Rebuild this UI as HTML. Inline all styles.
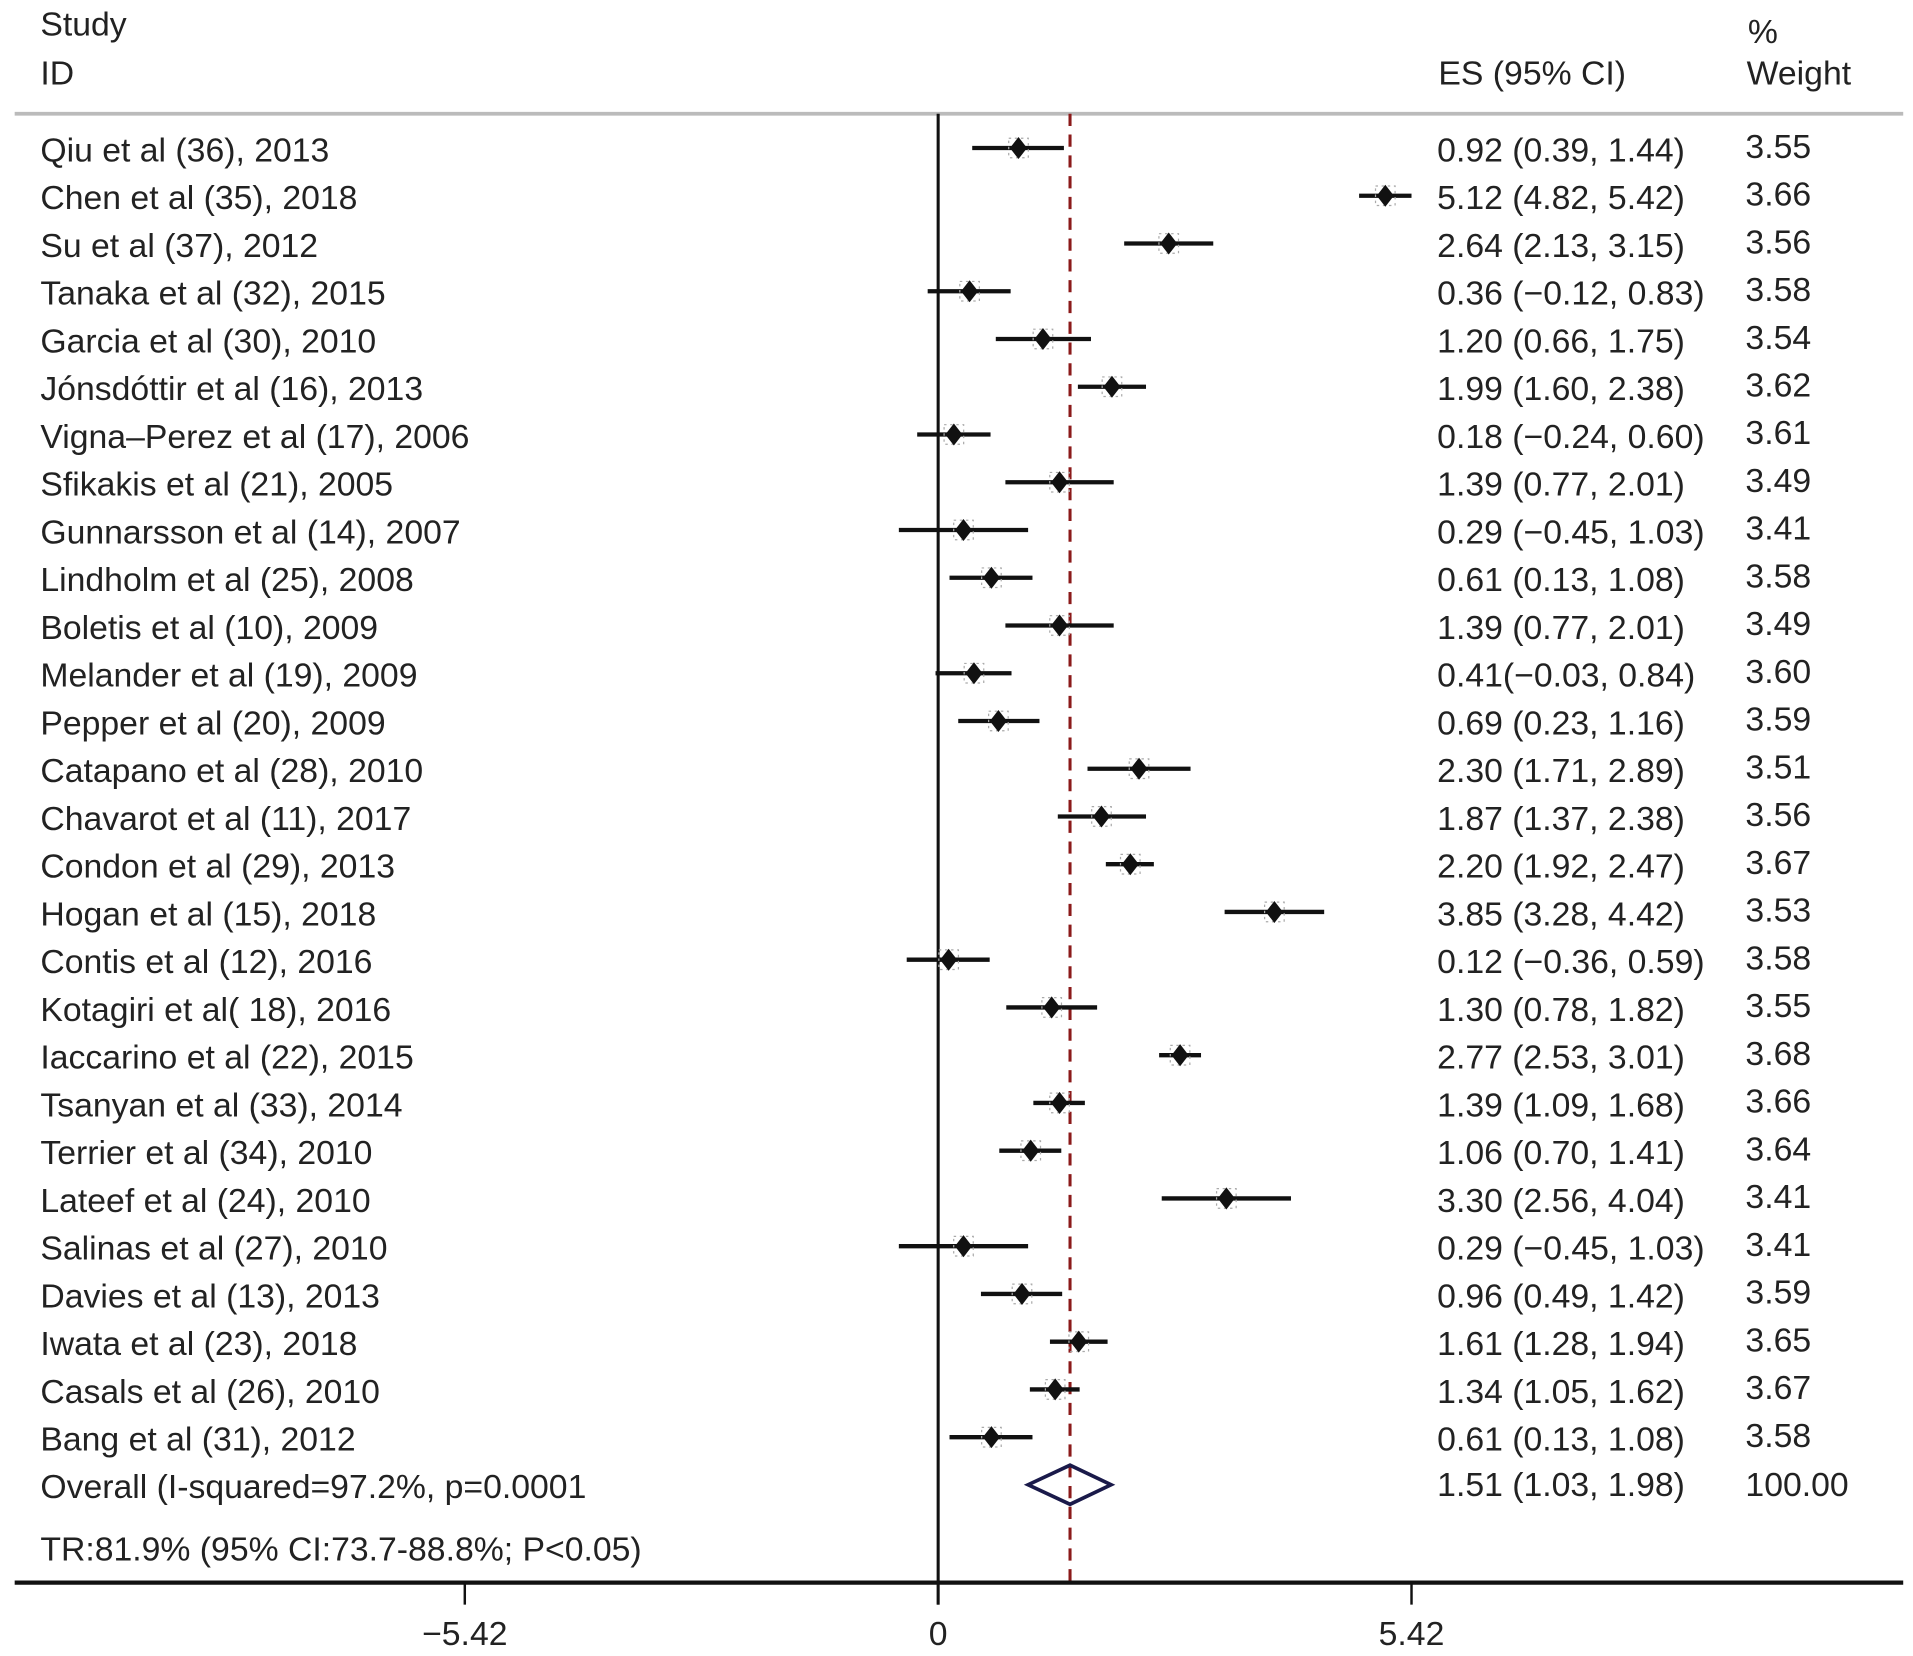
<!DOCTYPE html>
<html><head><meta charset="utf-8"><style>
html,body{margin:0;padding:0;background:#fff}
svg{display:block}
text{font-family:"Liberation Sans",sans-serif;font-size:27.6px;fill:#222}
</style></head><body>
<svg id="chart" width="1913" height="1656" viewBox="0 0 1564 1354" preserveAspectRatio="none" xmlns="http://www.w3.org/2000/svg">
<text x="33" y="29">Study</text>
<text x="33" y="69">ID</text>
<text x="1176" y="69">ES (95% CI)</text>
<text x="1429" y="35">%</text>
<text x="1428" y="69">Weight</text>
<line x1="12" y1="93" x2="1556" y2="93" stroke="#bbb" stroke-width="3"/>
<g id="plot"></g>
</svg>
<script>
const studies=["Qiu et al (36), 2013","Chen et al (35), 2018","Su et al (37), 2012","Tanaka et al (32), 2015","Garcia et al (30), 2010","Jónsdóttir et al (16), 2013","Vigna–Perez et al (17), 2006","Sfikakis et al (21), 2005","Gunnarsson et al (14), 2007","Lindholm et al (25), 2008","Boletis et al (10), 2009","Melander et al (19), 2009","Pepper et al (20), 2009","Catapano et al (28), 2010","Chavarot et al (11), 2017","Condon et al (29), 2013","Hogan et al (15), 2018","Contis et al (12), 2016","Kotagiri et al( 18), 2016","Iaccarino et al (22), 2015","Tsanyan et al (33), 2014","Terrier et al (34), 2010","Lateef et al (24), 2010","Salinas et al (27), 2010","Davies et al (13), 2013","Iwata et al (23), 2018","Casals et al (26), 2010","Bang et al (31), 2012"];
const es=[0.92,5.12,2.64,0.36,1.20,1.99,0.18,1.39,0.29,0.61,1.39,0.41,0.69,2.30,1.87,2.20,3.85,0.12,1.30,2.77,1.39,1.06,3.30,0.29,0.96,1.61,1.34,0.61];
const lo=[0.39,4.82,2.13,-0.12,0.66,1.60,-0.24,0.77,-0.45,0.13,0.77,-0.03,0.23,1.71,1.37,1.92,3.28,-0.36,0.78,2.53,1.09,0.70,2.56,-0.45,0.49,1.28,1.05,0.13];
const hi=[1.44,5.42,3.15,0.83,1.75,2.38,0.60,2.01,1.03,1.08,2.01,0.84,1.16,2.89,2.38,2.47,4.42,0.59,1.82,3.01,1.68,1.41,4.04,1.03,1.42,1.94,1.62,1.08];
const esLabels=["0.92 (0.39, 1.44)","5.12 (4.82, 5.42)","2.64 (2.13, 3.15)","0.36 (−0.12, 0.83)","1.20 (0.66, 1.75)","1.99 (1.60, 2.38)","0.18 (−0.24, 0.60)","1.39 (0.77, 2.01)","0.29 (−0.45, 1.03)","0.61 (0.13, 1.08)","1.39 (0.77, 2.01)","0.41(−0.03, 0.84)","0.69 (0.23, 1.16)","2.30 (1.71, 2.89)","1.87 (1.37, 2.38)","2.20 (1.92, 2.47)","3.85 (3.28, 4.42)","0.12 (−0.36, 0.59)","1.30 (0.78, 1.82)","2.77 (2.53, 3.01)","1.39 (1.09, 1.68)","1.06 (0.70, 1.41)","3.30 (2.56, 4.04)","0.29 (−0.45, 1.03)","0.96 (0.49, 1.42)","1.61 (1.28, 1.94)","1.34 (1.05, 1.62)","0.61 (0.13, 1.08)"];
const weights=["3.55","3.66","3.56","3.58","3.54","3.62","3.61","3.49","3.41","3.58","3.49","3.60","3.59","3.51","3.56","3.67","3.53","3.58","3.55","3.68","3.66","3.64","3.41","3.41","3.59","3.65","3.67","3.58"];
const overall=[1.51,1.03,1.98];
const ticks=[-5.42,0,5.42];
const tickLabels=["−5.42","0","5.42"];

const NS="http://www.w3.org/2000/svg";
const g=document.getElementById('plot');
const X=v=>767+v*(387/5.42);
const Y=i=>123+i*39.04;
function mk(tag,attrs,txt){const e=document.createElementNS(NS,tag);for(const k in attrs)e.setAttribute(k,attrs[k]);if(txt!==undefined)e.textContent=txt;g.appendChild(e);return e;}
let e;
e=mk('line',{x1:X(0),y1:93,x2:X(0),y2:1312,stroke:'#111','stroke-width':2.5});


e=mk('line',{x1:X(overall[0]),y1:93,x2:X(overall[0]),y2:1294,stroke:'#8b1a1a','stroke-width':2.5,'stroke-dasharray':'10 7'});


studies.forEach((s,i)=>{
  const y=Y(i);
  e=mk('text',{x:33,y:y+9},s);
  
  
  e=mk('line',{x1:X(lo[i]),y1:y-2,x2:X(hi[i]),y2:y-2,stroke:'#111','stroke-width':3.5});
  
  
  const cx=X(es[i]),cy=y-2;
  e=mk('rect',{x:cx-8,y:cy-8,width:16,height:16,fill:'none',stroke:'#aaa','stroke-width':1,'stroke-dasharray':'2 3'});
  
  
  e=mk('polygon',{points:`${cx},${cy-9} ${cx+7},${cy} ${cx},${cy+9} ${cx-7},${cy}`,fill:'#111'});
  
  
  e=mk('text',{x:1175,y:y+9},esLabels[i]);
  
  
  e=mk('text',{x:1427,y:y+6},weights[i]);
  
  
});
const oy=1216;
e=mk('text',{x:33,y:oy+9},'Overall (I-squared=97.2%, p=0.0001');


e=mk('polygon',{points:`${X(overall[1])},${oy-2} ${X(overall[0])},${oy-18} ${X(overall[2])},${oy-2} ${X(overall[0])},${oy+14}`,fill:'none',stroke:'#1a1a4a','stroke-width':3});


e=mk('text',{x:1175,y:oy+7},'1.51 (1.03, 1.98)');


e=mk('text',{x:1427,y:oy+7},'100.00');


e=mk('text',{x:33,y:1276},'TR:81.9% (95% CI:73.7-88.8%; P<0.05)');


e=mk('line',{x1:12,y1:1294,x2:1556,y2:1294,stroke:'#111','stroke-width':3.5});


ticks.forEach((t,i)=>{
  e=mk('line',{x1:X(t),y1:1294,x2:X(t),y2:1312,stroke:'#111','stroke-width':2});
  
  
  e=mk('text',{x:X(t),y:1345,'text-anchor':'middle'},tickLabels[i]);
  
  
});
</script>
</body></html>
